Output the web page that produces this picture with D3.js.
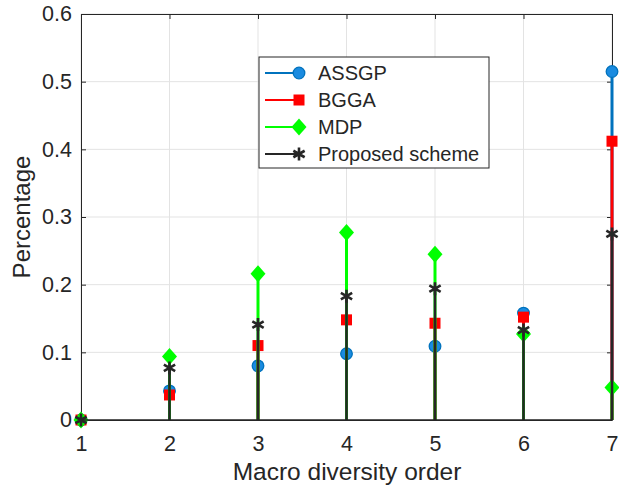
<!DOCTYPE html>
<html><head><meta charset="utf-8">
<script src="https://cdn.jsdelivr.net/npm/d3@7"></script>
<style>body{margin:0;background:#fff}text{font-family:"Liberation Sans",Arial,sans-serif;fill:#262626}</style>
</head><body><svg id="c" width="619" height="487"></svg>
<script>
const orders = [1,2,3,4,5,6,7];
const assgp = [0,0.043,0.080,0.098,0.109,0.158,0.515];
const bgga = [0,0.037,0.110,0.148,0.143,0.152,0.412];
const mdp = [0,0.094,0.216,0.277,0.245,0.127,0.048];
const proposed = [0,0.077,0.141,0.183,0.194,0.133,0.275];
const xTicks = [1,2,3,4,5,6,7];
const yTicks = [0,0.1,0.2,0.3,0.4,0.5,0.6];
const seriesNames = ["ASSGP","BGGA","MDP","Proposed scheme"];

const svg = d3.select("#c");
const L=81,R=612,T=14,B=420;
const x = d3.scaleLinear().domain([1,7]).range([L,R]);
const y = d3.scaleLinear().domain([0,0.6]).range([B,T]);

// grid
svg.append("g").selectAll("line").data(xTicks).join("line")
 .attr("x1",d=>x(d)).attr("x2",d=>x(d)).attr("y1",T).attr("y2",B).attr("stroke","#e3e3e3");
svg.append("g").selectAll("line").data(yTicks).join("line")
 .attr("y1",d=>y(d)).attr("y2",d=>y(d)).attr("x1",L).attr("x2",R).attr("stroke","#e3e3e3");

// axes
const ax = svg.append("g").attr("transform",`translate(0,${B})`)
 .call(d3.axisBottom(x).tickValues(xTicks).tickFormat(d3.format("d")).tickSizeInner(-5).tickSizeOuter(0).tickPadding(16));
const ay = svg.append("g").attr("transform",`translate(${L},0)`)
 .call(d3.axisLeft(y).tickValues(yTicks).tickFormat(d=>d===0?"0":d3.format(".1f")(d)).tickSizeInner(-5).tickSizeOuter(0).tickPadding(9));
const axT = svg.append("g").attr("transform",`translate(0,${T})`)
 .call(d3.axisTop(x).tickValues(xTicks).tickFormat("").tickSizeInner(-5).tickSizeOuter(0));
const ayR = svg.append("g").attr("transform",`translate(${R},0)`)
 .call(d3.axisRight(y).tickValues(yTicks).tickFormat("").tickSizeInner(-5).tickSizeOuter(0));
[ax,ay,axT,ayR].forEach(g=>{g.selectAll("path").attr("stroke","#262626");g.selectAll("line").attr("stroke","#262626");
 g.selectAll("text").attr("font-size",21.5).attr("fill","#262626").style("font-family","Liberation Sans, Arial, sans-serif");});

const series = [
 {name:seriesNames[0],vals:assgp,color:"#0072BD",marker:"circle"},
 {name:seriesNames[1],vals:bgga,color:"#FF0000",marker:"square"},
 {name:seriesNames[2],vals:mdp,color:"#00FF00",marker:"diamond"},
 {name:seriesNames[3],vals:proposed,color:"#262626",marker:"asterisk"}
];
function drawMarker(g,type,cx,cy,color){
 if(type==="circle") g.append("circle").attr("cx",cx).attr("cy",cy).attr("r",5.8).attr("fill","#1a8be0").attr("stroke","#0072BD").attr("stroke-width",1.3);
 else if(type==="square") g.append("rect").attr("x",cx-5.5).attr("y",cy-5.5).attr("width",11).attr("height",11).attr("fill","#FF0000");
 else if(type==="diamond") g.append("path").attr("d",`M${cx},${cy-8.5}L${cx+7.5},${cy}L${cx},${cy+8.5}L${cx-7.5},${cy}Z`).attr("fill","#00FF00");
 else {
  const s=6.5;
  g.append("path").attr("d",`M${cx},${cy-s}V${cy+s}M${cx-s*0.87},${cy-s/2}L${cx+s*0.87},${cy+s/2}M${cx-s*0.87},${cy+s/2}L${cx+s*0.87},${cy-s/2}`)
   .attr("stroke","#262626").attr("stroke-width",2.6);
 }
}
const plot = svg.append("g");
series.forEach(s=>{
 const g = plot.append("g");
 g.selectAll("line").data(orders).join("line")
  .attr("x1",(d)=>x(d)).attr("x2",d=>x(d)).attr("y1",y(0)).attr("y2",(d,i)=>y(s.vals[i]))
  .attr("stroke",s.color).attr("stroke-width",s.marker==="asterisk"?2.6:3);
 orders.forEach((o,i)=>drawMarker(g,s.marker,x(o),y(s.vals[i]),s.color));
});
// baseline
svg.append("line").attr("x1",L).attr("x2",R).attr("y1",B).attr("y2",B).attr("stroke","#262626").attr("stroke-width",1.5);

// legend
const lg = svg.append("g");
lg.append("rect").attr("x",259).attr("y",57).attr("width",230).attr("height",111).attr("fill","#fff").attr("stroke","#262626");
series.forEach((s,i)=>{
 const yy = 73+i*27;
 lg.append("line").attr("x1",265).attr("x2",299).attr("y1",yy).attr("y2",yy).attr("stroke",s.color).attr("stroke-width",2);
 drawMarker(lg,s.marker,299,yy,s.color);
 lg.append("text").attr("x",318).attr("y",yy+7).attr("font-size",20).text(s.name);
});

// labels
svg.append("text").attr("x",347).attr("y",480).attr("text-anchor","middle").attr("font-size",24.5).text("Macro diversity order");
svg.append("text").attr("transform","translate(30,217) rotate(-90)").attr("text-anchor","middle").attr("font-size",24).text("Percentage");
</script></body></html>
